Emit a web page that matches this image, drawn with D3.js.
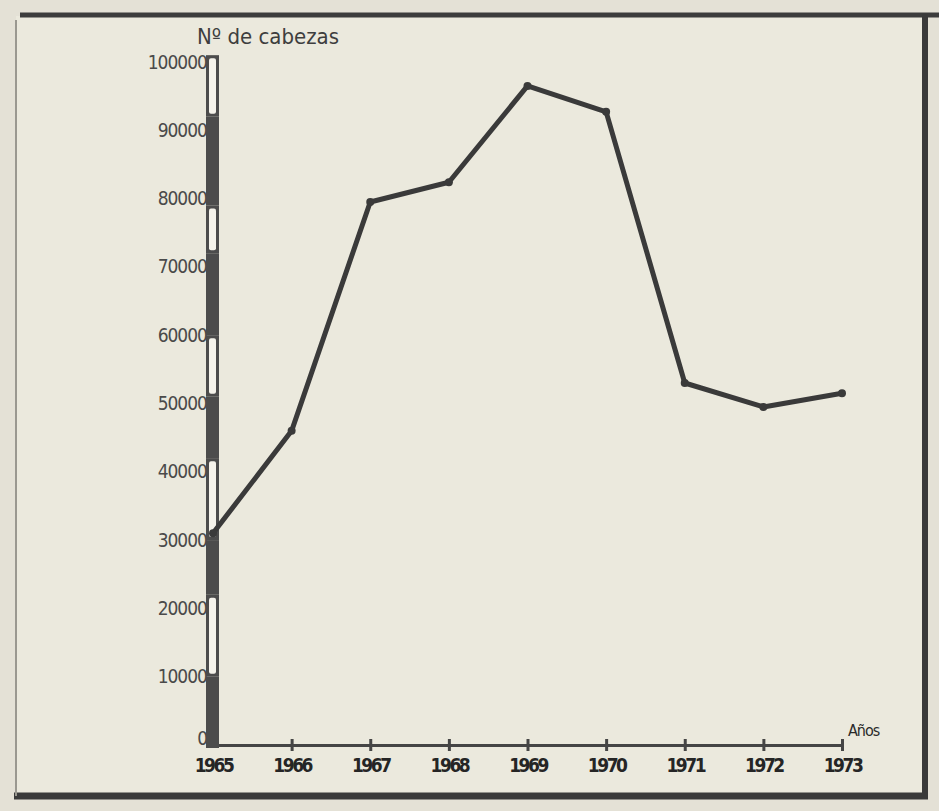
<!DOCTYPE html>
<html>
<head>
<meta charset="utf-8">
<script src="https://cdn.jsdelivr.net/npm/d3@7"></script>
<style>
html,body{margin:0;padding:0;background:#e6e3d9;}
svg{display:block;}
</style>
</head>
<body>
<svg id="chart" width="939" height="811"></svg>
<script>
const years = [1965, 1966, 1967, 1968, 1969, 1970, 1971, 1972, 1973];
const yearLabels = ["1965", "1966", "1967", "1968", "1969", "1970", "1971", "1972", "1973"];
const heads = [31000, 46000, 79500, 82400, 96500, 92700, 53000, 49500, 51500];
const yTicks = [0, 10000, 20000, 30000, 40000, 50000, 60000, 70000, 80000, 90000, 100000];
// decorative segments of the vertical scale bar (value ranges, hollow = light)
const barSegStart = [0, 10000, 22000, 30000, 42000, 51000, 60000, 72000, 79000, 92000];
const barSegEnd   = [10000, 22000, 30000, 42000, 51000, 60000, 72000, 79000, 92000, 101000];
const barSegHollow = [false, true, false, true, false, true, false, true, false, true];
const yTitle = "Nº de cabezas";
const xTitle = "Años";

const svg = d3.select("#chart");
const W = 939, H = 811;

// paper
svg.append("rect").attr("x",0).attr("y",0).attr("width",W).attr("height",H).attr("fill","#e4e1d6");
svg.append("rect").attr("x",16).attr("y",16).attr("width",910).attr("height",778).attr("fill","#ebe9dd");
// frame
svg.append("line").attr("x1",20).attr("y1",15).attr("x2",939).attr("y2",15)
  .attr("stroke","#3c3c3c").attr("stroke-width",5);
svg.append("line").attr("x1",925).attr("y1",14).attr("x2",925).attr("y2",797)
  .attr("stroke","#3a3a3a").attr("stroke-width",6);
svg.append("line").attr("x1",14).attr("y1",796).attr("x2",928).attr("y2",796)
  .attr("stroke","#3a3a3a").attr("stroke-width",7);
svg.append("line").attr("x1",16).attr("y1",20).attr("x2",16).attr("y2",796)
  .attr("stroke","#9a9890").attr("stroke-width",2);

const x = d3.scaleLinear().domain([1965, 1973]).range([213, 842]);
const y = d3.scaleLinear().domain([0, 100000]).range([745, 62]);

// x axis
const xAxis = d3.axisBottom(x).tickValues(years).tickSize(0).tickFormat((d,i)=>yearLabels[i]);
const gx = svg.append("g").attr("transform","translate(0,745)").call(xAxis);
gx.select(".domain").attr("stroke","#454545").attr("stroke-width",3);
gx.selectAll(".tick text")
  .attr("dy",0).attr("y",27)
  .attr("fill","#252525")
  .style("font-family","'Liberation Sans Narrow','DejaVu Sans Condensed','Liberation Sans',sans-serif")
  .style("font-size","19px").style("font-weight","bold").style("letter-spacing","-2.5px");
gx.selectAll(".tick").filter(d=>d>1965).append("line")
  .attr("y1",-6).attr("y2",6).attr("stroke","#454545").attr("stroke-width",3);

svg.append("text").attr("x",848).attr("y",736).text(xTitle)
  .attr("fill","#2a2a2a")
  .style("font-family","'Liberation Sans Narrow','DejaVu Sans Condensed',sans-serif")
  .style("font-size","16px").style("letter-spacing","-1px");

// y axis labels
const yAxis = d3.axisLeft(y).tickValues(yTicks).tickSize(0).tickPadding(0).tickFormat(d=>String(d));
const gy = svg.append("g").attr("transform","translate(207,0)").call(yAxis);
gy.select(".domain").remove();
gy.selectAll(".tick text")
  .attr("fill","#4a4a4a")
  .style("font-family","'Liberation Sans Narrow','DejaVu Sans Condensed',sans-serif")
  .style("font-size","19px").style("letter-spacing","-1px");
gy.selectAll(".tick").filter(d=>d===0).select("text").attr("dy","-0.05em");

// vertical scale bar
const barX = 206, barW = 13;
const segs = barSegStart.map((s,i)=>({s, e:barSegEnd[i], hollow:barSegHollow[i]}));
svg.append("g").selectAll("rect.seg").data(segs).join("rect")
  .attr("x",barX).attr("width",barW)
  .attr("y",d=>y(d.e)).attr("height",d=>y(d.s)-y(d.e)+ (d.s===0?3:0))
  .attr("fill","#4c4c4c");
svg.append("g").selectAll("rect.hol").data(segs.filter(d=>d.hollow)).join("rect")
  .attr("x",barX+3).attr("width",barW-6)
  .attr("y",d=>y(d.e)+3).attr("height",d=>y(d.s)-y(d.e)-6)
  .attr("rx",2)
  .attr("fill","#f5f3eb");

// title
svg.append("text").attr("x",197).attr("y",44).text(yTitle)
  .attr("fill","#3e3e3e")
  .style("font-family","'Liberation Sans Narrow','DejaVu Sans Condensed',sans-serif")
  .style("font-size","22px");

// line
const line = d3.line().x((d,i)=>x(years[i])).y(d=>y(d));
svg.append("path").datum(heads).attr("d",line)
  .attr("fill","none").attr("stroke","#3a3a3a").attr("stroke-width",5)
  .attr("stroke-linejoin","round").attr("stroke-linecap","round");
svg.append("g").selectAll("circle").data(heads).join("circle")
  .attr("cx",(d,i)=>x(years[i])).attr("cy",d=>y(d)).attr("r",4)
  .attr("fill","#3a3a3a");
</script>
</body>
</html>
